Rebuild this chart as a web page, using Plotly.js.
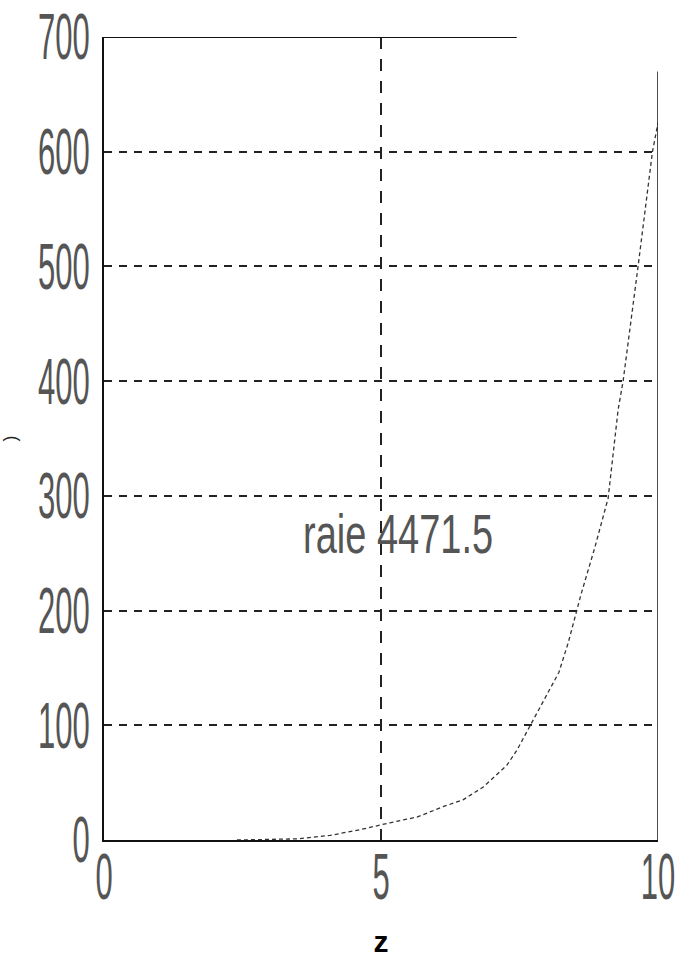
<!DOCTYPE html>
<html>
<head>
<meta charset="utf-8">
<script src="https://cdn.plot.ly/plotly-3.0.1.min.js"></script>
<style>html,body{margin:0;padding:0;background:#fff;}</style>
</head>
<body>
<div id="chart" style="width:680px;height:958px;"></div>
<script>
// Data
const zValues = [2.4, 3.5, 4.08, 4.62, 5.16, 5.65, 6.12, 6.48, 6.84, 7.27, 7.45, 7.78, 7.92, 8.21, 8.38, 8.61, 8.86, 9.1, 9.28, 9.37, 9.64, 9.9, 10];
const intensity = [0, 1, 4, 9, 15, 20, 29, 35, 46, 65, 78, 107, 120, 146, 172, 214, 255, 298, 375, 400, 500, 600, 625];
const xTicks = [0, 5, 10];
const yTicks = [0, 100, 200, 300, 400, 500, 600, 700];
const labelText = "raie 4471.5";
const xTitle = "z";
const yTitle = ")";

const tickFont = {family: "Liberation Sans Narrow, Liberation Sans, sans-serif", size: 31, color: "#555"};

const data = [{
  x: zValues, y: intensity, type: "scatter", mode: "lines",
  line: {color: "#333", width: 1.3, dash: "4px,3px"},
  hoverinfo: "skip", showlegend: false
}];

const layout = {
  width: 680, height: 958,
  margin: {l: 104, r: 22, t: 37, b: 118},
  paper_bgcolor: "#fff", plot_bgcolor: "#fff",
  xaxis: {
    range: [0, 10], tickvals: xTicks, ticktext: xTicks.map(String),
    showgrid: true, gridcolor: "#222", gridwidth: 1.6, griddash: "12px,10px",
    showline: true, linecolor: "#111", linewidth: 2, mirror: false,
    zeroline: false, ticks: "", tickfont: tickFont, ticklabelstandoff: 8,
    title: {text: xTitle, font: {family: "Liberation Sans, sans-serif", size: 30, color: "#000", weight: "bold"}, standoff: 40}
  },
  yaxis: {
    range: [0, 700], tickvals: yTicks, ticktext: yTicks.map(String),
    showgrid: true, gridcolor: "#222", gridwidth: 2, griddash: "8px,7px",
    showline: true, linecolor: "#111", linewidth: 2, mirror: false,
    zeroline: false, ticks: "", tickfont: tickFont, ticklabelstandoff: 6,
    title: {text: yTitle, font: {family: "Liberation Sans, sans-serif", size: 18, color: "#222"}, standoff: 30}
  },
  shapes: [
    {type: "line", xref: "x", yref: "y", x0: 0, x1: 7.45, y0: 700, y1: 700, line: {color: "#111", width: 2}},
    {type: "line", xref: "x", yref: "y", x0: 10, x1: 10, y0: 0, y1: 670, line: {color: "#111", width: 1.5}}
  ],
  annotations: [{
    x: 5.3, y: 267, xref: "x", yref: "y", text: labelText, showarrow: false,
    font: {family: "Liberation Sans Narrow, Liberation Sans, sans-serif", size: 38, color: "#555"}
  }]
};

Plotly.newPlot("chart", data, layout, {staticPlot: true}).then(function () {
  function stretch(sel, s) {
    document.querySelectorAll(sel).forEach(function (t) {
      const b = t.getBBox();
      const cy = b.y + b.height / 2;
      const prev = t.getAttribute("transform") || "";
      t.setAttribute("transform", prev + " translate(0," + cy + ") scale(1," + s + ") translate(0," + (-cy) + ")");
    });
  }
  stretch(".xtick text, .ytick text", 2.1);
  stretch(".annotation-text", 1.45);
});
</script>
</body>
</html>
